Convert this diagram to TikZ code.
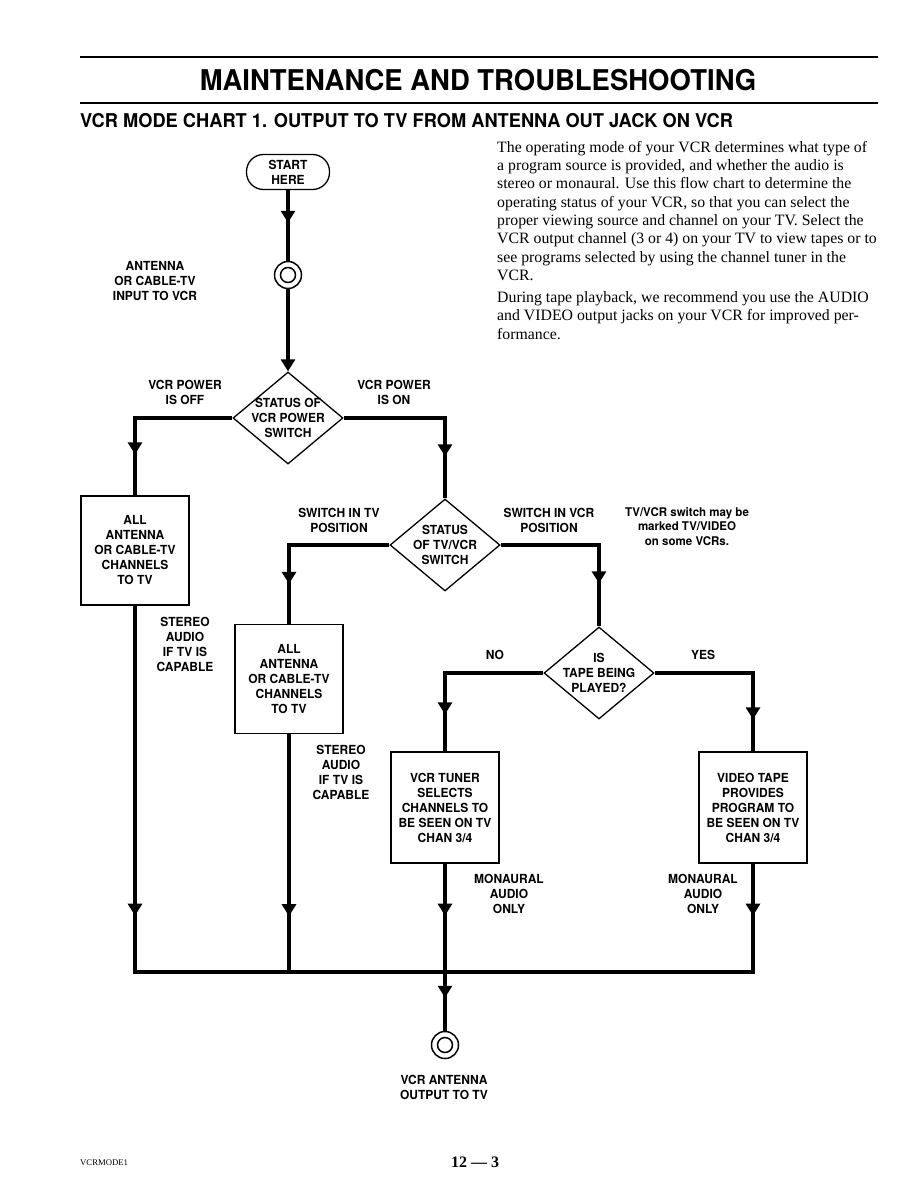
\documentclass[tikz,border=0pt]{standalone}
\usepackage{fontspec}
\setmainfont{Liberation Serif}
\newfontfamily\chartfont[FakeStretch=0.96]{TeX Gyre Heros}
\usepackage{tikz}
\usetikzlibrary{arrows.meta,shapes.geometric,decorations.markings}

\begin{document}
\begin{tikzpicture}[x=1pt, y=-1pt,
        tag/.style={align=center, inner sep=0pt, font={\chartfont\bfseries\fontsize{12.5}{15}\selectfont}},
        box/.style={tag, draw, line width=1.3pt, minimum width=108pt, minimum height=109pt},
        decision/.style={tag, draw, diamond, line width=1.3pt, inner sep=-9pt, minimum width=110pt, minimum height=92pt},
        terminal/.style={tag, draw, rounded corners=17pt, line width=1.3pt, minimum width=83pt, minimum height=35pt},
        jack/.style={circle, draw, line width=1.5pt, minimum size=27pt, inner sep=0pt,
            path picture={\draw[line width=1.5pt] (path picture bounding box.center) circle (7.5pt);}},
        flow/.style={line width=3.2pt},
        tipat/.style={postaction={decorate, decoration={markings,
            mark=at position #1 with {\arrow{Triangle[length=12pt, width=14pt]}}}}},
        endtip/.style={-{Triangle[length=12pt, width=14pt]}}
    ]
        \useasboundingbox (0,0) rectangle (918,1188);

        % page heading
        \draw[line width=2pt] (80,57) -- (878,57);
        \node[font={\chartfont\bfseries\fontsize{28.6}{34}\selectfont}, inner sep=0pt] (title) at (478,80) {MAINTENANCE AND TROUBLESHOOTING};
        \draw[line width=2pt] (80,103) -- (878,103);
        \node[anchor=west, inner sep=0pt, font={\chartfont\bfseries\fontsize{19}{23}\selectfont}] (chart) at (80,121) {VCR MODE CHART 1. OUTPUT TO TV FROM ANTENNA OUT JACK ON VCR};

        \node[anchor=north west, align=left, inner sep=0pt, font={\fontsize{15.8}{18.3}\selectfont}] (intro) at (497,141)
            {The operating mode of your VCR determines what type of\\
             a program source is provided, and whether the audio is\\
             stereo or monaural. Use this flow chart to determine the\\
             operating status of your VCR, so that you can select the\\
             proper viewing source and channel on your TV. Select the\\
             VCR output channel (3 or 4) on your TV to view tapes or to\\
             see programs selected by using the channel tuner in the\\
             VCR.\\[3.7pt]
             During tape playback, we recommend you use the AUDIO\\
             and VIDEO output jacks on your VCR for improved per-\\
             formance.};

        % chart
        \node[terminal] (start) at (288,172) {START\\HERE};
        \node[jack] (in) at (288,275) {};
        \node[tag] (inlabel) at (155,281) {ANTENNA\\OR CABLE-TV\\INPUT TO VCR};
        \node[decision] (power) at (288,418) {STATUS OF\\VCR POWER\\SWITCH};
        \node[tag] (off) at (185,392) {VCR POWER\\IS OFF};
        \node[tag] (on) at (394,392) {VCR POWER\\IS ON};
        \node[box] (direct) at (135,550.5) {ALL\\ANTENNA\\OR CABLE-TV\\CHANNELS\\TO TV};
        \node[decision] (switch) at (445,545) {STATUS\\OF TV/VCR\\SWITCH};
        \node[tag] (tvpos) at (339,520) {SWITCH IN TV\\POSITION};
        \node[tag] (vcrpos) at (549,520) {SWITCH IN VCR\\POSITION};
        \node[tag, font={\chartfont\bfseries\fontsize{12}{14.5}\selectfont}] (note) at (687,526.5) {TV/VCR switch may be\\marked TV/VIDEO\\on some VCRs.};
        \node[tag] (stereoa) at (185,644.5) {STEREO\\AUDIO\\IF TV IS\\CAPABLE};
        \node[box] (bypass) at (289,679) {ALL\\ANTENNA\\OR CABLE-TV\\CHANNELS\\TO TV};
        \node[tag] (stereob) at (341,772.5) {STEREO\\AUDIO\\IF TV IS\\CAPABLE};
        \node[decision] (tape) at (599,673) {IS\\TAPE BEING\\PLAYED?};
        \node[tag] (no) at (495,655) {NO};
        \node[tag] (yes) at (703,655) {YES};
        \node[box, minimum height=111pt] (tuner) at (445,807.5) {VCR TUNER\\SELECTS\\CHANNELS TO\\BE SEEN ON TV\\CHAN 3/4};
        \node[box, minimum height=111pt] (playback) at (753,807.5) {VIDEO TAPE\\PROVIDES\\PROGRAM TO\\BE SEEN ON TV\\CHAN 3/4};
        \node[tag] (monoa) at (509,894) {MONAURAL\\AUDIO\\ONLY};
        \node[tag] (monob) at (703,894) {MONAURAL\\AUDIO\\ONLY};
        \coordinate (join) at (445,972);
        \node[jack] (out) at (445,1045) {};
        \node[tag] (outlabel) at (444,1087.5) {VCR ANTENNA\\OUTPUT TO TV};

        \draw[flow, tipat=-38pt] (start.south) -- (in.north);
        \draw[flow, endtip] (in.south) -- (power.north);
        \draw[flow, tipat=-41pt] (power.west) -| (direct.north);
        \draw[flow, tipat=-42pt] (power.east) -| (switch.north);
        \draw[flow, tipat=-40pt] (switch.west) -| (bypass.north);
        \draw[flow, tipat=-43pt] (switch.east) -| (tape.north);
        \draw[flow, tipat=-37pt] (tape.west) -| (tuner.north);
        \draw[flow, tipat=-32pt] (tape.east) -| (playback.north);
        \draw[flow, tipat=310pt] (direct.south) |- (join);
        \draw[flow, tipat=182pt] (bypass.south) |- (join);
        \draw[flow, tipat=52pt] (tuner.south) -- (join);
        \draw[flow, tipat=52pt] (playback.south) |- (join);
        \draw[flow, tipat=-33pt] (join) -- (out.north);

        % footer
        \node[anchor=west, inner sep=0pt, font={\fontsize{8.7}{10}\selectfont}] (code) at (80,1163) {VCRMODE1};
        \node[inner sep=0pt, font={\bfseries\fontsize{16}{19}\selectfont}] (page) at (475,1162) {12 --- 3};
    \end{tikzpicture}
\end{document}
